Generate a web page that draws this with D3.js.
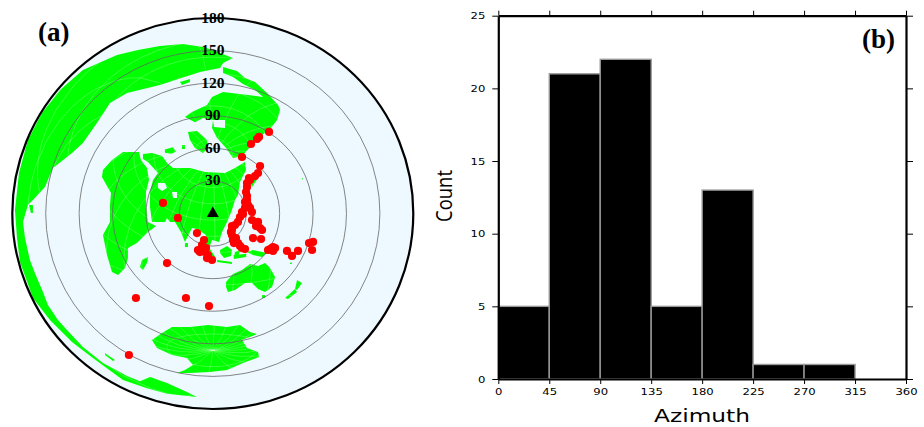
<!DOCTYPE html>
<html>
<head>
<meta charset="utf-8">
<script src="https://cdn.jsdelivr.net/npm/d3@7"></script>
<style>
  body { margin: 0; background: #fff; }
  svg { display: block; }
</style>
</head>
<body>
<div id="chart"></div>
<script>
// (a) angular offsets from the station in degrees: [east, north]
const landNorthAmerica = [[18.1,143.2],[11,146],[0.2,150.6],[-8.8,153.3],[-26.8,156.1],[-47.4,154.3],[-67.2,150.6],[-86,146],[-116.6,132.2],[-137.2,113.7],[-153.4,92.6],[-166,67.7],[-174,37.3],[-177.6,3.2],[-175.8,-22.6],[-173.1,-44.7],[-161.5,-77.8],[-146.2,-98.1],[-126.4,-118.3],[-107.6,-133.1],[-80.6,-153.3],[-59.1,-160.8],[-41.1,-165.9],[-14.2,-169],[-23.2,-164.4],[-41.1,-156.1],[-56.4,-150.6],[-65.3,-154.4],[-77,-149.7],[-98.6,-137.7],[-116.6,-122.9],[-130.9,-107.3],[-139,-98.1],[-148,-84.3],[-152.5,-72.3],[-159.7,-54.8],[-164.2,-42.8],[-168.6,-22.6],[-170.4,-7.8],[-166,7.8],[-161.5,12.4],[-150.7,24.4],[-143.5,41.9],[-126.4,55.7],[-116.6,64.9],[-104,83.4],[-92.3,101.8],[-77,111],[-47.4,118.3],[-11.5,130.3],[6.5,134],[9.2,138.6]];
const landNorth = [[9.2,134.9],[21.7,131.2],[28.9,124.7],[37.9,121.1],[48.7,111],[58.6,99.9],[60.4,95.3],[57.7,86.1],[51.4,77.8],[40.6,69.6],[33.4,61.3],[27.1,53.9],[22.6,52.1],[18.1,51.1],[11.9,60.3],[3.8,69.6],[-0.7,78.8],[0.2,86.1],[-8.8,88],[-16,84.1],[-25,88.9],[-18.7,93.5],[-5.2,99.9],[-0.7,107.3],[9.2,111.9],[24.4,110.1],[45.1,107.3],[37.9,113.7],[27.1,119.3],[18.1,125.7],[9.2,129.4]];
const landNorthIsle = [[-22.3,75.1],[-14.2,76],[-5.2,67.7],[-4.3,60.3],[-8.8,55.7],[-16,60.3],[-20.5,67.7]];
const landAfrica = [[-66.3,56.6],[-64.5,49.3],[-59.1,41.9],[-57.3,30.9],[-60,19.8],[-60,6],[-58.2,-7.8],[-51,-11.5],[-59.1,-18],[-68.1,-27.2],[-76.2,-31.8],[-76.2,-41],[-78.8,-50.2],[-85.1,-56.6],[-90.5,-53.9],[-95,-38.2],[-98.6,-19.8],[-92.3,-7.8],[-92.3,7.8],[-91.4,18.9],[-99.5,33.6],[-98.6,40.1],[-90.5,49.3],[-80.6,56.6]];
const landEurasia = [[-62.7,54.8],[-54.6,55.7],[-45.6,53],[-41.1,46.5],[-35.7,41.9],[-20.5,41.9],[-7,38.2],[11,37.3],[19.9,41.9],[28.9,47.4],[29.8,40.1],[24.4,29],[22.6,17],[19.9,12.4],[17.2,3.2],[12.8,-7.8],[8.3,-17],[5.6,-26.2],[-0.7,-24.4],[-3.4,-31.8],[-6.1,-30.9],[-6.1,-19.8],[-14.2,-14.3],[-18.7,-13.4],[-22.3,-20.7],[-25,-26.2],[-28.6,-17],[-33.9,-7.8],[-38.4,-7.8],[-41.1,-4.1],[-42.9,-7.8],[-54.6,-7.8],[-56.4,6],[-56.4,19.8],[-53.7,30.9],[-49.2,37.3],[-58.2,47.4],[-62.7,50.2]];
const landAustralia = [[11.9,-63.1],[18.1,-55.7],[26.2,-52],[33.4,-46.5],[40.6,-48.4],[46.9,-45.6],[51.4,-50.2],[55.9,-58.5],[53.2,-67.7],[46.9,-72.3],[40.6,-69.5],[35.2,-64],[28.9,-64],[19.9,-70.5],[13.6,-72.3],[11.9,-67.7]];
const landAntarctica = [[-54.6,-116.5],[-45.6,-110.1],[-36.6,-104.5],[-20.5,-104.5],[-4.3,-102.7],[12.8,-104.5],[24.4,-102.7],[33.4,-109.1],[39.7,-111],[26.2,-116.5],[30.7,-123.9],[40.6,-127.6],[41.5,-132.2],[27.1,-137.7],[12.8,-144.1],[-2.5,-146],[-20.5,-146.9],[-32.1,-146.9],[-25,-144.1],[-17.8,-139.5],[-23.2,-133.1],[-36.6,-130.3],[-50.1,-123.9]];
const landIslands = [
  [[-27.7,63],[-25,63],[-25,59.4],[-27.7,59.4]],
  [[-29.5,121.1],[-20.5,123.9],[-20.5,121.1],[-27.7,118.3]],
  [[-43,59],[-36,61],[-33,57],[-37,55],[-43,56]],
  [[33.4,28.1],[40.6,38.2],[44.2,44.7],[42.4,35.5],[35.2,24.4]],
  [[-7,-29],[-0.7,-39.1],[2.9,-41],[-4.3,-30]],
  [[3.8,-42.8],[17.2,-44.7],[17.2,-46.5],[3.8,-44.7]],
  [[6.5,-33.6],[12.8,-29.9],[17.2,-33.6],[16.3,-39.1],[10.1,-41],[6.5,-36.4]],
  [[19.9,-35.5],[24.4,-33.6],[22.6,-41],[19,-41]],
  [[18.5,-38.5],[30,-37],[30,-40],[19,-42]],
  [[30.7,-35.5],[36.1,-33.6],[48.7,-36.4],[44.2,-40],[36.1,-38.2]],
  [[-25,-27.2],[-22.3,-27.2],[-22.3,-30.9],[-25,-30.9]],
  [[-65.4,-49.3],[-63.6,-42.8],[-58.2,-40.1],[-59.1,-45.6],[-62.7,-52]],
  [[44.2,-75.1],[46.9,-75.1],[46.9,-77.8],[44.2,-77.8]],
  [[75.6,-61.2],[80.1,-64],[75.6,-70.5],[73.8,-69.5]],
  [[73.8,-69.5],[64.8,-77.8],[67.5,-78.7],[75.6,-72.3]],
  [[-96.8,-128.5],[-87.8,-134.9],[-89.6,-135.8],[-96.8,-130.3]],
  [[-165,7.8],[-161.5,7.8],[-161.5,0.5],[-163.3,0.5]],
  [[69.5,-45],[71,-45],[71,-46.5],[69.5,-46.5]],
  [[80,32.5],[81,32.5],[81,31.5],[80,31.5]]
];
const inlandSeas = [
  [[-49.2,28.1],[-42.9,28.1],[-41.1,23.5],[-45.6,20.7],[-49.2,23.5]],
  [[-36.6,19.8],[-32.1,19.8],[-32.1,14.3],[-35.7,14.3]],
  [[0.2,86.1],[11,86.1],[11,78.8],[1.1,79.7]]
];
const quakes = [[42.4,43.7],[40.6,37.3],[37.9,34.5],[33.4,30.9],[32.5,32.7],[30.7,28.1],[30.7,24.4],[29.8,19.8],[30.7,16.1],[30.7,12.4],[28.9,10.6],[31.6,7.8],[28.9,5.1],[33.4,5.1],[26.2,1.4],[27.1,-0.5],[35.2,1.4],[24.4,-3.2],[22.6,-7.8],[35.2,-6],[40.6,-7.8],[38.8,-11.5],[42.4,-13.4],[44.2,-15.2],[19.9,-10.6],[17.2,-11.5],[17.2,-15.2],[16.3,-17],[17.2,-19.8],[20.8,-22.6],[18.1,-24.4],[19,-27.2],[22.6,-27.2],[24.4,-29.9],[26.2,-31.8],[28.9,-32.7],[36.1,-22.6],[43.3,-23.5],[-14.2,-18],[-7.9,-24.4],[-13.3,-33.6],[-10.6,-33.6],[-11.5,-35.5],[-7,-35.5],[-6.1,-31.8],[-9.7,-29],[-5.2,-41],[-4.3,-38.2],[-0.7,-42.8],[49.6,-33.6],[51.4,-32.7],[54.1,-34.5],[54.1,-30.9],[53.2,-31.8],[55.9,-31.8],[66.6,-34.5],[71.1,-39.1],[76.5,-34.5],[90,-26.2],[86.4,-27.2],[89.1,-33.6],[50.5,75.1],[41.5,70.5],[39.7,68.6],[34.3,64],[26.2,52],[-44.7,9.7],[-31.3,-4.1],[-41.1,-45.6],[-69,-77.8],[-24.1,-77.8],[-3.4,-85.2],[-75.3,-130.3]];
const distanceRings = [30, 60, 90, 120, 150, 180];
const stationLonLat = [103, 36];

// (b) histogram
const binEdges = [0, 45, 90, 135, 180, 225, 270, 315];
const binCounts = [5, 21, 22, 5, 13, 1, 1, 0];
const azimuthTicks = [0, 45, 90, 135, 180, 225, 270, 315, 360];
const countTicks = [0, 5, 10, 15, 20, 25];

const svg = d3.select("#chart").append("svg")
    .attr("width", 924)
    .attr("height", 427);

// ---- panel a ----
const x = d3.scaleLinear().domain([-180, 180]).range([12.3, 413.3]);
const y = d3.scaleLinear().domain([-180, 180]).range([409.0, 18.0]);

const lineGen = d3.line().x(d => x(d[0])).y(d => y(d[1])).curve(d3.curveLinearClosed);

const allLand = [landNorthAmerica, landNorth, landNorthIsle, landAfrica, landEurasia,
                 landAustralia, landAntarctica].concat(landIslands);

svg.append("ellipse")
    .attr("cx", x(0)).attr("cy", y(0))
    .attr("rx", x(180) - x(0)).attr("ry", y(0) - y(180))
    .attr("fill", "#eef9ff");

const clip = svg.append("clipPath").attr("id", "land-clip");
clip.selectAll("path").data(allLand).enter().append("path").attr("d", lineGen);

svg.append("g").selectAll("path")
    .data(allLand)
  .enter().append("path")
    .attr("d", lineGen)
    .attr("fill", "#00ff00");

// graticule only shows on the land
const projection = d3.geoAzimuthalEquidistant()
    .rotate([-stationLonLat[0], -stationLonLat[1]])
    .scale(180 / Math.PI)
    .translate([0, 0])
    .clipAngle(178);
const toPanel = d3.geoTransform({
  point(px, py) { this.stream.point(x(px), y(-py)); }
});
const graticulePath = d3.geoPath().projection({
  stream: s => projection.stream(toPanel.stream(s))
});
svg.append("path")
    .datum(d3.geoGraticule().step([15, 15]).stepMajor([15, 15]).extentMajor([[-180, -90], [180, 90.001]])())
    .attr("d", graticulePath)
    .attr("clip-path", "url(#land-clip)")
    .attr("fill", "none")
    .attr("stroke", "#fff")
    .attr("stroke-opacity", 0.45)
    .attr("stroke-width", 0.5);

svg.append("g").selectAll("path")
    .data(inlandSeas)
  .enter().append("path")
    .attr("d", lineGen)
    .attr("fill", "#eef9ff");

svg.append("g").selectAll("ellipse")
    .data(distanceRings.slice(0, 5))
  .enter().append("ellipse")
    .attr("cx", x(0)).attr("cy", y(0))
    .attr("rx", d => x(d) - x(0))
    .attr("ry", d => y(0) - y(d))
    .attr("fill", "none")
    .attr("stroke", "#666")
    .attr("stroke-width", 0.8);

svg.append("ellipse")
    .attr("cx", x(0)).attr("cy", y(0))
    .attr("rx", x(180) - x(0)).attr("ry", y(0) - y(180))
    .attr("fill", "none")
    .attr("stroke", "#000")
    .attr("stroke-width", 2.2);

svg.append("g").selectAll("circle")
    .data(quakes)
  .enter().append("circle")
    .attr("cx", d => x(d[0]))
    .attr("cy", d => y(d[1]))
    .attr("r", 4.1)
    .attr("fill", "#ff0000");

svg.append("path")
    .attr("d", d3.symbol(d3.symbolTriangle, 62))
    .attr("transform", `translate(${x(0)},${y(0)})`)
    .attr("fill", "#000");

svg.append("g").selectAll("text")
    .data(distanceRings)
  .enter().append("text")
    .attr("x", x(0))
    .attr("y", d => y(d) + 4.5)
    .attr("text-anchor", "middle")
    .style("font", "bold 15.5px 'Liberation Serif'")
    .attr("fill", "#000")
    .text(d => d);

svg.append("text")
    .attr("x", 38).attr("y", 41)
    .style("font", "bold 27px 'Liberation Serif'")
    .text("(a)");

// ---- panel b ----
const xHist = d3.scaleLinear().domain([0, 360]).range([498.3, 906]);
const yHist = d3.scaleLinear().domain([0, 25]).range([379, 15.7]);

svg.append("g").selectAll("rect")
    .data(binCounts.filter(d => d > 0))
  .enter().append("rect")
    .attr("x", (d, i) => xHist(binEdges[i]))
    .attr("y", d => yHist(d))
    .attr("width", (d, i) => xHist(binEdges[i] + 45) - xHist(binEdges[i]))
    .attr("height", d => yHist(0) - yHist(d))
    .attr("fill", "#000")
    .attr("stroke", "#999")
    .attr("stroke-width", 1.4);

function styleAxis(g) {
  g.select(".domain").attr("stroke", "#000").attr("stroke-width", 2.2);
  g.selectAll(".tick line").attr("stroke", "#000").attr("stroke-width", 1);
}

svg.append("g")
    .attr("transform", `translate(0,${yHist(25)})`)
    .call(d3.axisTop(xHist).tickValues(azimuthTicks).tickFormat("").tickSize(5).tickSizeOuter(0))
    .call(styleAxis);
svg.append("g")
    .attr("transform", `translate(${xHist(360)},0)`)
    .call(d3.axisRight(yHist).tickValues(countTicks).tickFormat("").tickSize(7).tickSizeOuter(0))
    .call(styleAxis);

const bottomAxis = svg.append("g")
    .attr("transform", `translate(0,${yHist(0)})`)
    .call(d3.axisBottom(xHist).tickValues(azimuthTicks).tickSize(5).tickPadding(4).tickSizeOuter(0))
    .call(styleAxis);
const leftAxis = svg.append("g")
    .attr("transform", `translate(${xHist(0)},0)`)
    .call(d3.axisLeft(yHist).tickValues(countTicks).tickSize(6).tickPadding(7).tickSizeOuter(0))
    .call(styleAxis);

[bottomAxis, leftAxis].forEach(g => {
  g.selectAll(".tick text")
      .style("font", "9.5px 'DejaVu Sans'")
      .attr("fill", "#000")
      .attr("textLength", function() { return this.textContent.length * 7.4; })
      .attr("lengthAdjust", "spacingAndGlyphs");
});

svg.append("text")
    .attr("x", 702).attr("y", 422)
    .attr("text-anchor", "middle")
    .attr("textLength", 96)
    .attr("lengthAdjust", "spacingAndGlyphs")
    .style("font", "17px 'DejaVu Sans'")
    .text("Azimuth");

svg.append("text")
    .attr("transform", "translate(452,196) rotate(-90)")
    .attr("text-anchor", "middle")
    .attr("textLength", 52)
    .attr("lengthAdjust", "spacingAndGlyphs")
    .style("font", "22px 'Open Sans'")
    .text("Count");

svg.append("text")
    .attr("x", 862).attr("y", 48)
    .style("font", "bold 27px 'Liberation Serif'")
    .text("(b)");
</script>
</body>
</html>
